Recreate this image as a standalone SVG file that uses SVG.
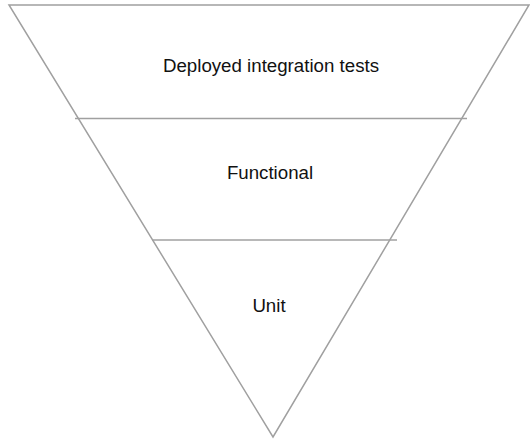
<svg xmlns="http://www.w3.org/2000/svg" width="530" height="439" viewBox="0 0 530 439">
  <style>
    .edge { stroke: #a0a0a0; stroke-width: 1.5; fill: none; }
    .label { font-family: "Liberation Sans", Arial, Helvetica, sans-serif; font-size: 18.7px; fill: #111; text-anchor: middle; }
  </style>
  <rect width="530" height="439" fill="#ffffff"/>
  <g id="connectors">
    <!-- outer inverted triangle -->
    <polygon class="edge" points="9,5 529,5 273,437"/>
    <!-- tier dividers -->
    <line class="edge" x1="75" y1="118.5" x2="467" y2="118.5"/>
    <line class="edge" x1="152" y1="240" x2="397" y2="240"/>
  </g>
  <g id="tier-deployed">
    <text class="label" x="271" y="72">Deployed integration tests</text>
  </g>
  <g id="tier-functional">
    <text class="label" x="270" y="179">Functional</text>
  </g>
  <g id="tier-unit">
    <text class="label" x="269" y="312">Unit</text>
  </g>
</svg>
